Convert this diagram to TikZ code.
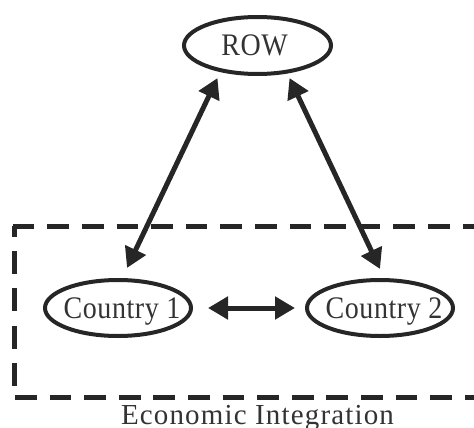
\documentclass[tikz,border=0pt]{standalone}
\usepackage{fontspec}
\setmainfont{Liberation Serif}
\usetikzlibrary{arrows.meta,shapes.geometric}
\newcommand{\stretchtxt}[1]{\makebox[0pt][c]{\scalebox{1}[1.12]{#1}}}
\begin{document}
\begin{tikzpicture}[x=1pt,y=-1pt,
  ell/.style={ellipse,draw=black!85,line width=4pt,inner sep=0pt,outer sep=0pt,
    minimum width=146pt,minimum height=56pt,text=black!80,
    font=\fontsize{28}{30}\selectfont\addfontfeatures{LetterSpace=2},
    text height=20.8pt,text depth=0pt},
  link/.style={line width=5pt,draw=black!85,
    {Triangle[length=20pt,width=22pt]}-{Triangle[length=20pt,width=22pt]}},
  framehor/.style={line width=5pt,draw=black!85,dash pattern=on 21.7pt off 12.9pt},
  framever/.style={line width=5pt,draw=black!85,dash pattern=on 23pt off 14.3pt,dash phase=12.3pt},
  caption/.style={inner sep=0pt,text=black!80,
    font=\fontsize{29}{31}\selectfont\addfontfeatures{LetterSpace=4},
    text height=19.3pt,text depth=0pt}]
\useasboundingbox (0,0) rectangle (474,428);
% frame
\draw[framehor] (12.7,226) -- (480,226);
\draw[framehor] (15,397) -- (480,397);
\draw[framever] (14.3,226) -- (14.3,397);
% nodes
\node[ell,minimum width=147pt,minimum height=57pt] (row) at (257.5,45.5) {\stretchtxt{ROW\hspace*{6pt}}};
\node[ell] (c1) at (118,308) {\stretchtxt{\hspace*{8pt}Country 1}};
\node[ell] (c2) at (380,308) {\stretchtxt{\hspace*{8pt}Country 2}};
\node[caption] (ei) at (257.5,414.6) {Economic Integration};
% links
\draw[link] ([xshift=9pt,yshift=12pt]c1.north) -- ([xshift=-40pt,yshift=-4pt]row.south);
\draw[link] ([yshift=11pt]c2.north) -- ([xshift=32pt,yshift=-4pt]row.south);
\draw[link] ([xshift=17pt]c1.east) -- ([xshift=-12pt]c2.west);
\end{tikzpicture}
\end{document}
